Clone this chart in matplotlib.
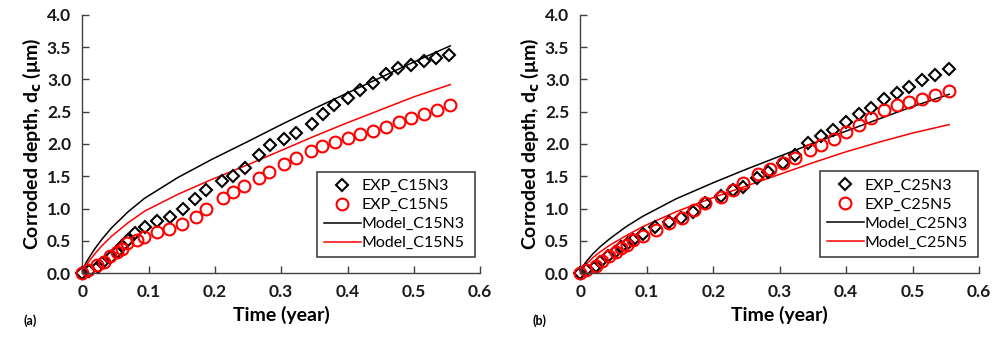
import matplotlib

matplotlib.use("Agg")

import matplotlib.pyplot as plt

plt.rcParams["font.family"] = ["Lato", "DejaVu Sans"]

# panel (a): C15
exp_c15n3_t = [0, 0.010, 0.023, 0.030, 0.043, 0.052, 0.060, 0.069, 0.080, 0.094, 0.112, 0.132,
               0.152, 0.170, 0.187, 0.211, 0.228, 0.245, 0.267, 0.283, 0.304, 0.323, 0.346,
               0.363, 0.380, 0.400, 0.419, 0.439, 0.458, 0.476, 0.496, 0.515, 0.533, 0.553]
exp_c15n3_d = [0, 0.04, 0.10, 0.15, 0.25, 0.32, 0.42, 0.52, 0.62, 0.71, 0.81, 0.87,
               0.99, 1.15, 1.28, 1.42, 1.51, 1.63, 1.83, 1.98, 2.07, 2.17, 2.31,
               2.46, 2.61, 2.71, 2.84, 2.95, 3.08, 3.18, 3.23, 3.28, 3.33, 3.38]
exp_c15n5_t = [0, 0.009, 0.022, 0.032, 0.042, 0.052, 0.060, 0.067, 0.082, 0.093, 0.112, 0.131,
               0.151, 0.172, 0.187, 0.212, 0.228, 0.244, 0.266, 0.282, 0.304, 0.323, 0.345,
               0.361, 0.381, 0.400, 0.419, 0.438, 0.458, 0.477, 0.495, 0.516, 0.535, 0.554]
exp_c15n5_d = [0, 0.05, 0.12, 0.17, 0.26, 0.32, 0.38, 0.47, 0.51, 0.56, 0.64, 0.68,
               0.76, 0.87, 0.99, 1.16, 1.26, 1.35, 1.47, 1.57, 1.69, 1.79, 1.89,
               1.97, 2.03, 2.09, 2.15, 2.20, 2.27, 2.34, 2.41, 2.47, 2.53, 2.60]
model_c15_t = [0, 0.002, 0.005, 0.009, 0.019, 0.030, 0.044, 0.069, 0.094, 0.144, 0.195,
               0.25, 0.30, 0.35, 0.40, 0.45, 0.50, 0.555]
model_c15n3_d = [0, 0.08, 0.15, 0.22, 0.38, 0.53, 0.70, 0.95, 1.16, 1.48, 1.76,
                 2.04, 2.30, 2.55, 2.79, 3.03, 3.27, 3.52]
model_c15n5_d = [0, 0.06, 0.11, 0.17, 0.30, 0.43, 0.57, 0.78, 0.96, 1.22, 1.45,
                 1.68, 1.90, 2.12, 2.33, 2.53, 2.73, 2.92]

# panel (b): C25
exp_c25n3_t = [0, 0.009, 0.023, 0.030, 0.041, 0.052, 0.061, 0.072, 0.080, 0.095, 0.113, 0.133,
               0.152, 0.170, 0.188, 0.211, 0.229, 0.245, 0.266, 0.283, 0.305, 0.323, 0.343,
               0.362, 0.380, 0.399, 0.419, 0.437, 0.457, 0.476, 0.495, 0.514, 0.534, 0.554]
exp_c25n3_d = [0, 0.05, 0.11, 0.17, 0.26, 0.33, 0.41, 0.47, 0.52, 0.61, 0.72, 0.79,
               0.86, 0.95, 1.08, 1.20, 1.28, 1.34, 1.47, 1.57, 1.70, 1.83, 2.02,
               2.12, 2.22, 2.34, 2.46, 2.56, 2.69, 2.79, 2.89, 2.99, 3.07, 3.16]
exp_c25n5_t = [0, 0.009, 0.023, 0.033, 0.043, 0.053, 0.061, 0.070, 0.080, 0.095, 0.114, 0.133,
               0.153, 0.171, 0.188, 0.211, 0.229, 0.245, 0.267, 0.285, 0.305, 0.323, 0.345,
               0.362, 0.381, 0.399, 0.419, 0.437, 0.457, 0.476, 0.495, 0.514, 0.534, 0.554]
exp_c25n5_d = [0, 0.05, 0.11, 0.19, 0.26, 0.33, 0.39, 0.43, 0.51, 0.58, 0.66, 0.78,
               0.86, 0.97, 1.08, 1.18, 1.28, 1.39, 1.54, 1.61, 1.70, 1.78, 1.90,
               1.98, 2.08, 2.18, 2.30, 2.41, 2.52, 2.60, 2.65, 2.70, 2.76, 2.82]
model_c25_t = [0, 0.002, 0.005, 0.009, 0.019, 0.030, 0.044, 0.069, 0.094, 0.144, 0.20,
               0.25, 0.30, 0.35, 0.40, 0.45, 0.50, 0.555]
model_c25n3_d = [0, 0.07, 0.12, 0.18, 0.30, 0.41, 0.53, 0.72, 0.88, 1.15, 1.40,
                 1.61, 1.81, 2.01, 2.20, 2.39, 2.58, 2.77]
model_c25n5_d = [0, 0.05, 0.09, 0.14, 0.24, 0.33, 0.43, 0.58, 0.72, 0.95, 1.17,
                 1.35, 1.53, 1.71, 1.88, 2.03, 2.17, 2.30]

x_ticks = [0, 0.1, 0.2, 0.3, 0.4, 0.5, 0.6]
x_labels = ["0", "0.1", "0.2", "0.3", "0.4", "0.5", "0.6"]
y_ticks = [0, 0.5, 1.0, 1.5, 2.0, 2.5, 3.0, 3.5, 4.0]

panels = [
    ("(a)", "C15", exp_c15n3_t, exp_c15n3_d, exp_c15n5_t, exp_c15n5_d,
     model_c15_t, model_c15n3_d, model_c15n5_d),
    ("(b)", "C25", exp_c25n3_t, exp_c25n3_d, exp_c25n5_t, exp_c25n5_d,
     model_c25_t, model_c25n3_d, model_c25n5_d),
]

fig = plt.figure(figsize=(9.92, 3.38), dpi=100)
axes_rects = [(0.083, 0.192, 0.401, 0.764), (0.585, 0.192, 0.402, 0.764)]
legend_boxes = [(0.589, 0.061, 0.398, 0.328), (0.600, 0.063, 0.396, 0.326)]
tag_x = [0.024, 0.537]

for rect, lbox, tx, (tag, name, e3t, e3d, e5t, e5d, mt, m3, m5) in zip(
        axes_rects, legend_boxes, tag_x, panels):
    ax = fig.add_axes(rect)
    ax.plot(mt, m3, color="black", linewidth=1.1, label=f"Model_{name}N3")
    ax.plot(mt, m5, color="#ff0000", linewidth=1.1, label=f"Model_{name}N5")
    ax.plot(e3t, e3d, linestyle="none", marker="D", markersize=6, markerfacecolor="none",
            markeredgecolor="black", markeredgewidth=1.5, label=f"EXP_{name}N3", clip_on=False)
    ax.plot(e5t, e5d, linestyle="none", marker="o", markersize=8.5, markerfacecolor="none",
            markeredgecolor="#ff0000", markeredgewidth=1.5, label=f"EXP_{name}N5", clip_on=False)

    ax.set_xlim(0, 0.6)
    ax.set_ylim(0, 4.0)
    ax.set_xticks(x_ticks)
    ax.set_xticklabels(x_labels)
    ax.set_yticks(y_ticks)
    ax.set_yticklabels([f"{v:.1f}" for v in y_ticks])
    for lbl in ax.get_xticklabels() + ax.get_yticklabels():
        lbl.set_fontweight("bold")
    ax.tick_params(direction="in", length=5, width=1, labelsize=12.5, colors="#404040",
                   labelcolor="#1a1a1a", pad=8)
    ax.spines["top"].set_visible(False)
    ax.spines["right"].set_visible(False)
    for side in ("left", "bottom"):
        ax.spines[side].set_color("#404040")
        ax.spines[side].set_linewidth(1)
    ax.set_xlabel("Time (year)", fontsize=14, fontweight="bold", labelpad=4)
    ax.set_ylabel("Corroded depth, d$_\\mathbf{c}$ (μm)", fontsize=14, fontweight="bold",
                  labelpad=3)

    handles, labels = ax.get_legend_handles_labels()
    order = [2, 3, 0, 1]
    leg = ax.legend([handles[i] for i in order], [labels[i] for i in order],
                    loc="lower left", bbox_to_anchor=lbox, mode="expand", fontsize=11.5,
                    frameon=True, fancybox=False, borderaxespad=0, handlelength=2.3,
                    handletextpad=0.05, labelspacing=0.3, borderpad=0.45)
    leg.get_frame().set_edgecolor("black")
    leg.get_frame().set_linewidth(1.1)

    fig.text(tx, 0.04, tag, fontsize=9, fontweight="bold")

fig.savefig("out.png", dpi=100)
